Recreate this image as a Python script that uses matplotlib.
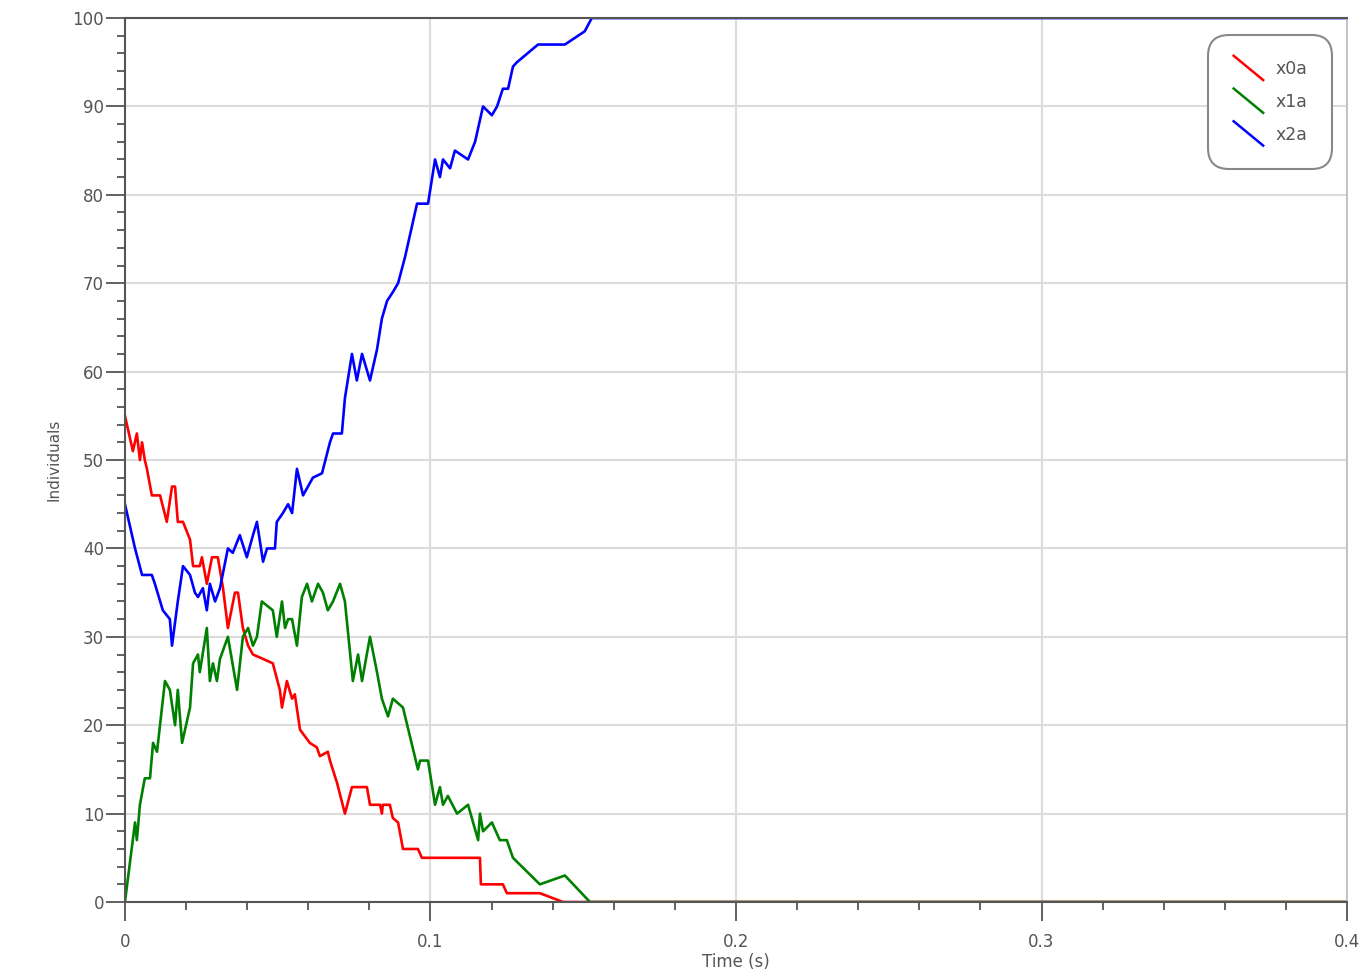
import matplotlib
matplotlib.use('Agg')
import matplotlib.pyplot as plt
from matplotlib.lines import Line2D
from matplotlib.legend_handler import HandlerBase
from matplotlib.ticker import MultipleLocator

# 시뮬레이션 결과
t_x0a = [0.0, 0.0026, 0.0039, 0.0049, 0.0056, 0.0065, 0.0072, 0.0088, 0.0115, 0.0137,
         0.0154, 0.0164, 0.0173, 0.0190, 0.0213, 0.0223, 0.0245, 0.0252, 0.0268, 0.0285,
         0.0304, 0.0321, 0.0337, 0.0360, 0.0370, 0.0386, 0.0403, 0.0419, 0.0452, 0.0484,
         0.0507, 0.0514, 0.0530, 0.0547, 0.0556, 0.0573, 0.0605, 0.0628, 0.0638, 0.0664,
         0.0671, 0.0694, 0.0720, 0.0743, 0.0792, 0.0802, 0.0835, 0.0841, 0.0844, 0.0867,
         0.0877, 0.0894, 0.0910, 0.0959, 0.0972, 0.1162, 0.1165, 0.1237, 0.1250, 0.1358,
         0.1434, 0.4]
x0a = [55, 51, 53, 50, 52, 50, 49, 46, 46, 43,
       47, 47, 43, 43, 41, 38, 38, 39, 36, 39,
       39, 35.5, 31, 35, 35, 31, 29, 28, 27.5, 27,
       24, 22, 25, 23, 23.5, 19.5, 18, 17.5, 16.5, 17,
       16, 13.5, 10, 13, 13, 11, 11, 10, 11, 11,
       9.5, 9, 6, 6, 5, 5, 2, 2, 1, 1,
       0, 0]

t_x1a = [0.0, 0.0033, 0.0039, 0.0049, 0.0065, 0.0082, 0.0092, 0.0105, 0.0131, 0.0147,
         0.0164, 0.0173, 0.0187, 0.0213, 0.0223, 0.0239, 0.0245, 0.0268, 0.0278, 0.0288,
         0.0301, 0.0311, 0.0337, 0.0367, 0.0386, 0.0403, 0.0419, 0.0432, 0.0448, 0.0484,
         0.0497, 0.0514, 0.0524, 0.0534, 0.0547, 0.0563, 0.0579, 0.0596, 0.0612, 0.0632,
         0.0648, 0.0664, 0.0681, 0.0704, 0.0720, 0.0746, 0.0763, 0.0776, 0.0802, 0.0825,
         0.0841, 0.0861, 0.0877, 0.0910, 0.0959, 0.0966, 0.0992, 0.1015, 0.1031, 0.1041,
         0.1057, 0.1087, 0.1123, 0.1156, 0.1162, 0.1172, 0.1201, 0.1227, 0.1250, 0.1270,
         0.1358, 0.1440, 0.1522, 0.4]
x1a = [0, 9, 7, 11, 14, 14, 18, 17, 25, 24,
       20, 24, 18, 22, 27, 28, 26, 31, 25, 27,
       25, 27.5, 30, 24, 30, 31, 29, 30, 34, 33,
       30, 34, 31, 32, 32, 29, 34.5, 36, 34, 36,
       35, 33, 34, 36, 34, 25, 28, 25, 30, 26,
       23, 21, 23, 22, 15, 16, 16, 11, 13, 11,
       12, 10, 11, 7, 10, 8, 9, 7, 7, 5,
       2, 3, 0, 0]

t_x2a = [0.0, 0.0033, 0.0056, 0.0088, 0.0098, 0.0124, 0.0147, 0.0154, 0.0173, 0.0190,
         0.0213, 0.0229, 0.0239, 0.0255, 0.0268, 0.0278, 0.0295, 0.0311, 0.0337, 0.0353,
         0.0376, 0.0399, 0.0419, 0.0432, 0.0452, 0.0465, 0.0491, 0.0497, 0.0517, 0.0534,
         0.0547, 0.0563, 0.0583, 0.0599, 0.0615, 0.0645, 0.0671, 0.0681, 0.0710, 0.0720,
         0.0743, 0.0759, 0.0776, 0.0802, 0.0825, 0.0841, 0.0858, 0.0877, 0.0894, 0.0917,
         0.0956, 0.0992, 0.1015, 0.1031, 0.1041, 0.1064, 0.1080, 0.1123, 0.1146, 0.1172,
         0.1201, 0.1218, 0.1237, 0.1254, 0.1270, 0.1283, 0.1352, 0.1440, 0.1505, 0.1528,
         0.4]
x2a = [45, 40, 37, 37, 36, 33, 32, 29, 34, 38,
       37, 35, 34.5, 35.5, 33, 36, 34, 35.5, 40, 39.5,
       41.5, 39, 41.5, 43, 38.5, 40, 40, 43, 44, 45,
       44, 49, 46, 47, 48, 48.5, 52, 53, 53, 57,
       62, 59, 62, 59, 62.5, 66, 68, 69, 70, 73,
       79, 79, 84, 82, 84, 83, 85, 84, 86, 90,
       89, 90, 92, 92, 94.5, 95, 97, 97, 98.5, 100,
       100]

series = [('x0a', t_x0a, x0a, '#ff0000'),
          ('x1a', t_x1a, x1a, '#008000'),
          ('x2a', t_x2a, x2a, '#0000ff')]


class DiagonalHandler(HandlerBase):
    """범례 핸들을 대각선으로 그리기"""
    def create_artists(self, legend, orig_handle, xdescent, ydescent,
                       width, height, fontsize, trans):
        x0 = -xdescent
        y0 = -ydescent
        line = Line2D([x0, x0 + width], [y0 + height * 1.5, y0 - height * 0.5],
                      color=orig_handle.get_color(), linewidth=1.8,
                      transform=trans)
        return [line]


text_color = '#555555'
axis_color = '#555555'

fig = plt.figure(figsize=(13.67, 9.74), dpi=100)
ax = fig.add_axes([0.0914, 0.0739, 0.8940, 0.9076])

handles = []
for name, t, y, color in series:
    h, = ax.plot(t, y, color=color, linewidth=1.9, label=name)
    handles.append(h)

ax.set_xlim(0, 0.4)
ax.set_ylim(0, 100)

ax.yaxis.set_major_locator(MultipleLocator(10))
ax.yaxis.set_minor_locator(MultipleLocator(2))
ax.xaxis.set_minor_locator(MultipleLocator(0.02))
ax.set_xticks([0, 0.1, 0.2, 0.3, 0.4])
ax.set_xticklabels(['0', '0.1', '0.2', '0.3', '0.4'])

ax.tick_params(axis='both', which='major', direction='out', length=14, width=1.3,
               color=axis_color, labelcolor=text_color, labelsize=12)
ax.tick_params(axis='both', which='minor', direction='out', length=6, width=1.3,
               color=axis_color)
ax.tick_params(axis='x', which='major', pad=8)
ax.tick_params(axis='y', which='major', pad=1)

ax.grid(True, which='major', color='#dcdcdc', linewidth=1.5)
ax.set_axisbelow(True)

for side in ['left', 'bottom', 'top']:
    ax.spines[side].set_color(axis_color)
    ax.spines[side].set_linewidth(1.5)
ax.spines['right'].set_color('#bbbbbb')
ax.spines['right'].set_linewidth(1.2)

ax.set_xlabel('Time (s)', color=text_color, fontsize=12, labelpad=2)
ax.set_ylabel('Individuals', color=text_color, fontsize=11, labelpad=8)

leg = ax.legend(handles=handles, loc='upper right', bbox_to_anchor=(0.988, 0.981),
                borderaxespad=0, fontsize=12.5, handlelength=1.7, handletextpad=0.7,
                labelspacing=0.85, borderpad=1.45, fancybox=True, framealpha=1,
                edgecolor='#888888',
                handler_map={Line2D: DiagonalHandler()})
leg.get_frame().set_linewidth(1.5)
leg.get_frame().set_boxstyle('round,pad=0,rounding_size=1.2')
for txt in leg.get_texts():
    txt.set_color(text_color)

fig.savefig('out.png', dpi=100)
